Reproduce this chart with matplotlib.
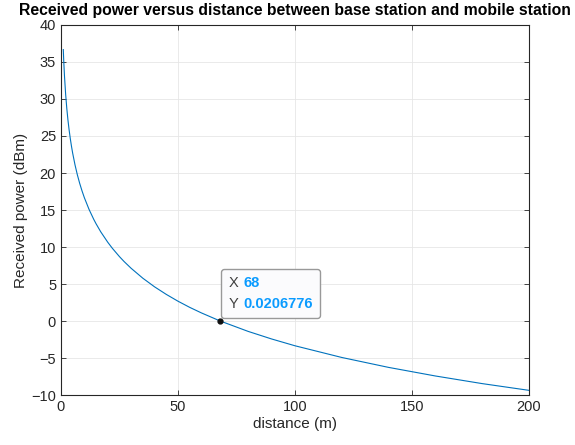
import matplotlib.pyplot as plt
from matplotlib.offsetbox import TextArea, HPacker, VPacker, AnnotationBbox

plt.rcParams['font.family'] = ['Liberation Sans', 'DejaVu Sans']

# distance (m) and received power (dBm)
distance = [1, 1.2, 1.5, 2, 2.5, 3, 3.5, 4, 4.5, 5, 6, 7, 8, 9, 10, 12, 14, 15,
            17, 20, 22, 25, 27, 30, 35, 40, 45, 50, 55, 60, 68,
            80, 90, 100, 120, 140, 160, 180, 200]
power = [36.67, 35.09, 33.15, 30.65, 28.71, 27.13, 25.79, 24.63, 23.61, 22.69,
         21.11, 19.77, 18.61, 17.59, 16.67, 15.09, 13.75, 13.15,
         12.06, 10.65, 9.82, 8.71, 8.04, 7.13, 5.79, 4.63, 3.61, 2.69, 1.86,
         1.11, 0.0206776,
         -1.39, -2.41, -3.33, -4.91, -6.25, -7.41, -8.44, -9.35]

tip_x = 68
tip_y = 0.0206776

fig = plt.figure(figsize=(5.75, 4.45), dpi=100)
ax = fig.add_axes([0.106, 0.112, 0.814, 0.832])

ax.plot(distance, power, color='#0072BD', lw=0.8)
ax.plot([tip_x], [tip_y], 'o', ms=3.5, mfc='#111111', mec='#111111', zorder=5)

ax.set_xlim(0, 200)
ax.set_ylim(-10, 40)
ax.set_xticks([0, 50, 100, 150, 200])
ax.set_yticks(range(-10, 41, 5))
ax.grid(True, color='#e6e6e6', lw=0.6)
ax.set_axisbelow(True)
ax.tick_params(direction='in', top=True, right=True, labelsize=10.5,
               colors='#262626', length=3.5, width=0.6)
for s in ax.spines.values():
    s.set_color('#262626')
    s.set_linewidth(0.8)

ax.set_xlabel('distance (m)', fontsize=11, color='#262626', labelpad=2)
ax.set_ylabel('Received power (dBm)', fontsize=11, color='#262626', labelpad=2)
ax.set_title('Received power versus distance between base station and mobile station',
             fontsize=11.3, fontweight='bold', pad=7)

# data tip
gray = dict(color='#404040', fontsize=10.5)
blue = dict(color='#0A9BFF', fontsize=10.5, fontweight='bold')
row1 = HPacker(children=[TextArea('X', textprops=gray), TextArea('68', textprops=blue)],
               sep=4, align='baseline')
row2 = HPacker(children=[TextArea('Y', textprops=gray), TextArea('0.0206776', textprops=blue)],
               sep=4, align='baseline')
box = VPacker(children=[row1, row2], sep=5, align='left')
ab = AnnotationBbox(box, (tip_x, tip_y), xybox=(6, 7), boxcoords='offset points',
                    box_alignment=(0, 0), pad=0.5, frameon=True,
                    bboxprops=dict(boxstyle='round,pad=0.5,rounding_size=0.2',
                                   fc='#fbfbfd', ec='#999999', lw=1.0))
ax.add_artist(ab)

fig.savefig('out.png', dpi=100)
